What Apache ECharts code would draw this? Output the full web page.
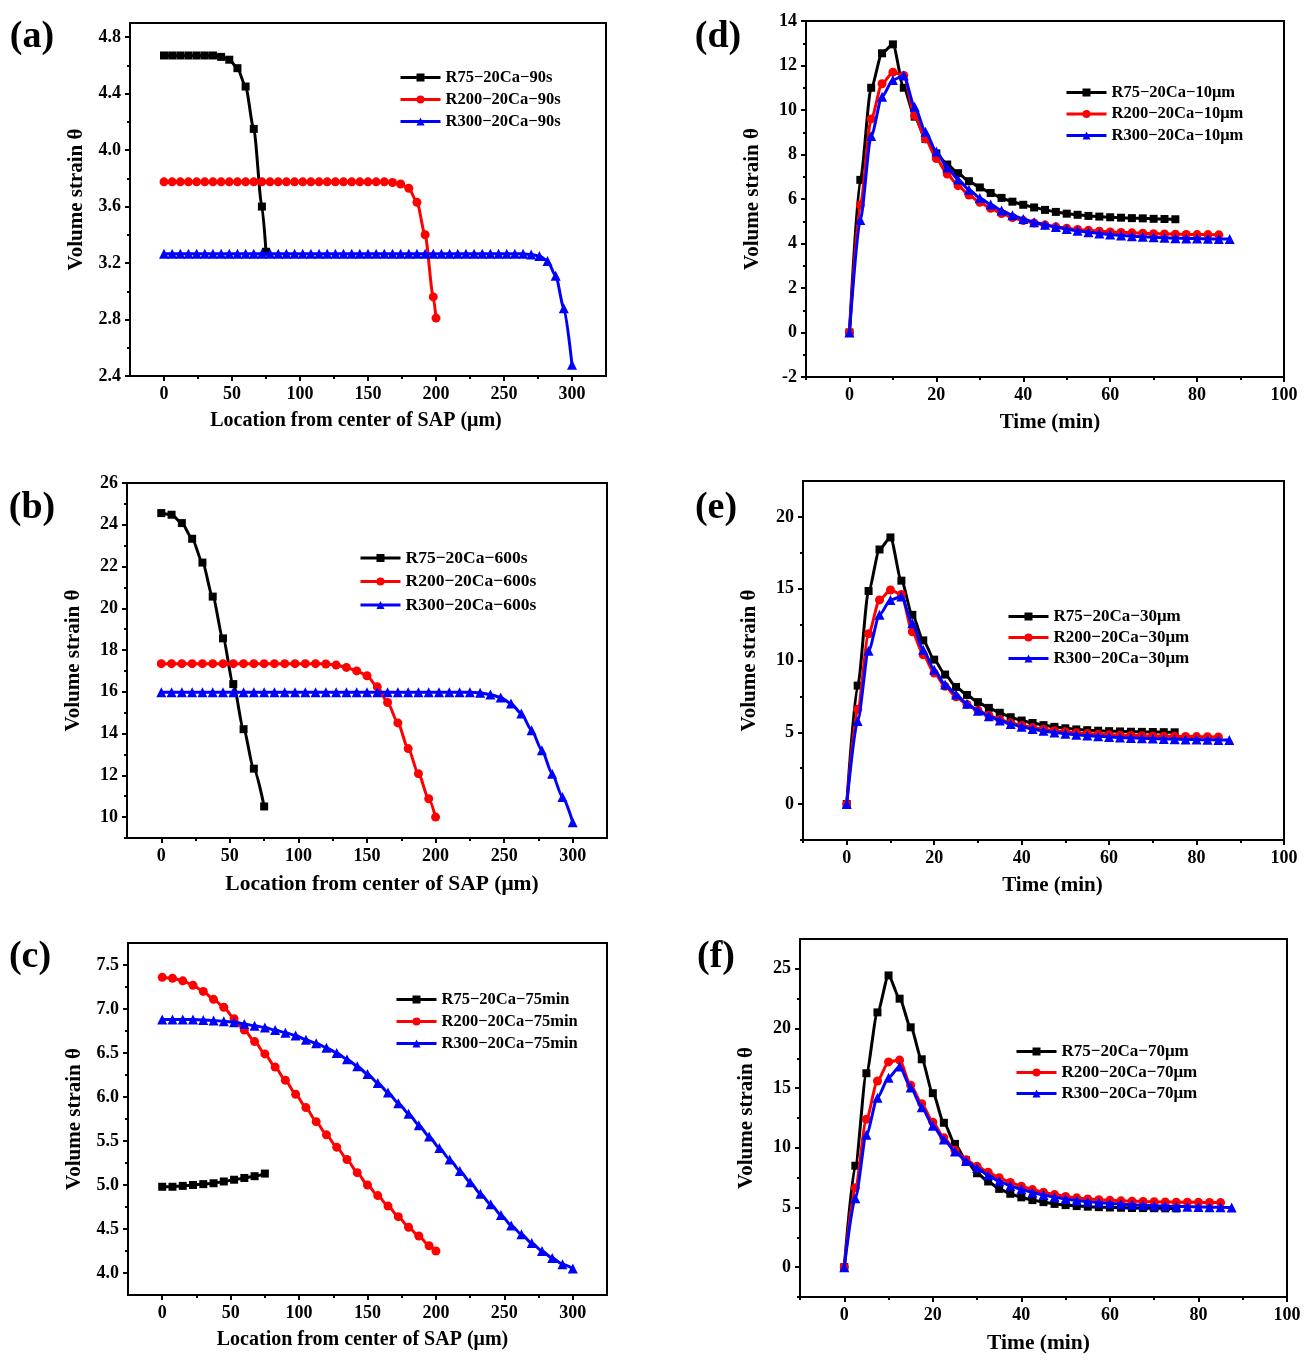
<!DOCTYPE html>
<html>
<head>
<meta charset="utf-8">
<script src="https://cdn.jsdelivr.net/npm/echarts@6.0.0/dist/echarts.min.js"></script>
<style>
  html, body { margin: 0; padding: 0; background: #fff; }
  #main { width: 1311px; height: 1361px; }
</style>
</head>
<body>
<div id="main"></div>
<script>
// ---- data: location (µm) ----
var locA75 = [0, 6, 12, 18, 24, 30, 36, 42, 48, 54, 60, 66, 72, 75];
var locA200 = [0, 6, 12, 18, 24, 30, 36, 42, 48, 54, 60, 66, 72, 78, 84, 90, 96, 102, 108, 114, 120, 126, 132, 138, 144, 150, 156, 162, 168, 174, 180, 186, 192, 198, 200];
var locA300 = [0, 6, 12, 18, 24, 30, 36, 42, 48, 54, 60, 66, 72, 78, 84, 90, 96, 102, 108, 114, 120, 126, 132, 138, 144, 150, 156, 162, 168, 174, 180, 186, 192, 198, 204, 210, 216, 222, 228, 234, 240, 246, 252, 258, 264, 270, 276, 282, 288, 294, 300];
var loc75 = [0, 7.5, 15, 22.5, 30, 37.5, 45, 52.5, 60, 67.5, 75];
var loc200 = [0, 7.5, 15, 22.5, 30, 37.5, 45, 52.5, 60, 67.5, 75, 82.5, 90, 97.5, 105, 112.5, 120, 127.5, 135, 142.5, 150, 157.5, 165, 172.5, 180, 187.5, 195, 200];
var loc300 = [0, 7.5, 15, 22.5, 30, 37.5, 45, 52.5, 60, 67.5, 75, 82.5, 90, 97.5, 105, 112.5, 120, 127.5, 135, 142.5, 150, 157.5, 165, 172.5, 180, 187.5, 195, 202.5, 210, 217.5, 225, 232.5, 240, 247.5, 255, 262.5, 270, 277.5, 285, 292.5, 300];

// ---- data: time (min) ----
var time75 = [0, 2.5, 5, 7.5, 10, 12.5, 15, 17.5, 20, 22.5, 25, 27.5, 30, 32.5, 35, 37.5, 40, 42.5, 45, 47.5, 50, 52.5, 55, 57.5, 60, 62.5, 65, 67.5, 70, 72.5, 75];
var time85 = [0, 2.5, 5, 7.5, 10, 12.5, 15, 17.5, 20, 22.5, 25, 27.5, 30, 32.5, 35, 37.5, 40, 42.5, 45, 47.5, 50, 52.5, 55, 57.5, 60, 62.5, 65, 67.5, 70, 72.5, 75, 77.5, 80, 82.5, 85];
var time875 = [0, 2.5, 5, 7.5, 10, 12.5, 15, 17.5, 20, 22.5, 25, 27.5, 30, 32.5, 35, 37.5, 40, 42.5, 45, 47.5, 50, 52.5, 55, 57.5, 60, 62.5, 65, 67.5, 70, 72.5, 75, 77.5, 80, 82.5, 85, 87.5];

// (a) 90 s
var strainA75 = [4.67, 4.67, 4.67, 4.67, 4.67, 4.67, 4.67, 4.66, 4.64, 4.58, 4.45, 4.15, 3.60, 3.28];
var strainA200 = [3.775, 3.775, 3.775, 3.775, 3.775, 3.775, 3.775, 3.775, 3.775, 3.775, 3.775, 3.775, 3.775, 3.775, 3.775, 3.775, 3.775, 3.775, 3.775, 3.775, 3.775, 3.775, 3.775, 3.775, 3.775, 3.775, 3.775, 3.775, 3.77, 3.76, 3.73, 3.63, 3.40, 2.96, 2.81];
var strainA300 = [3.265, 3.265, 3.265, 3.265, 3.265, 3.265, 3.265, 3.265, 3.265, 3.265, 3.265, 3.265, 3.265, 3.265, 3.265, 3.265, 3.265, 3.265, 3.265, 3.265, 3.265, 3.265, 3.265, 3.265, 3.265, 3.265, 3.265, 3.265, 3.265, 3.265, 3.265, 3.265, 3.265, 3.265, 3.265, 3.265, 3.265, 3.265, 3.265, 3.265, 3.265, 3.265, 3.265, 3.265, 3.265, 3.26, 3.25, 3.215, 3.11, 2.88, 2.48];
// (b) 600 s
var strainB75 = [24.56, 24.48, 24.08, 23.33, 22.19, 20.56, 18.56, 16.37, 14.21, 12.32, 10.51];
var strainB200 = [17.35, 17.35, 17.35, 17.35, 17.35, 17.35, 17.35, 17.35, 17.35, 17.35, 17.35, 17.35, 17.35, 17.35, 17.35, 17.35, 17.33, 17.28, 17.17, 17.0, 16.77, 16.24, 15.49, 14.51, 13.28, 12.08, 10.88, 10.0];
var strainB300 = [15.98, 15.98, 15.98, 15.98, 15.98, 15.98, 15.98, 15.98, 15.98, 15.98, 15.98, 15.98, 15.98, 15.98, 15.98, 15.98, 15.98, 15.98, 15.98, 15.98, 15.98, 15.98, 15.98, 15.98, 15.98, 15.98, 15.98, 15.98, 15.98, 15.98, 15.98, 15.95, 15.87, 15.73, 15.44, 14.96, 14.16, 13.2, 12.08, 10.96, 9.76];
// (c) 75 min
var strainC75 = [4.98, 4.98, 4.99, 5.00, 5.01, 5.02, 5.04, 5.06, 5.08, 5.10, 5.13];
var strainC200 = [7.36, 7.35, 7.32, 7.27, 7.20, 7.11, 7.02, 6.89, 6.76, 6.63, 6.49, 6.34, 6.19, 6.03, 5.88, 5.72, 5.57, 5.43, 5.29, 5.14, 5.00, 4.88, 4.76, 4.64, 4.52, 4.42, 4.31, 4.25];
var strainC300 = [6.88, 6.88, 6.88, 6.88, 6.875, 6.87, 6.86, 6.85, 6.83, 6.81, 6.79, 6.76, 6.73, 6.70, 6.65, 6.61, 6.56, 6.50, 6.43, 6.35, 6.26, 6.16, 6.05, 5.93, 5.81, 5.68, 5.55, 5.42, 5.29, 5.16, 5.03, 4.90, 4.78, 4.66, 4.54, 4.44, 4.34, 4.25, 4.17, 4.10, 4.05];
// (d) 10 µm
var strainD75 = [0, 6.86, 11.0, 12.55, 12.95, 11.0, 9.7, 8.7, 8.05, 7.55, 7.16, 6.8, 6.52, 6.27, 6.05, 5.88, 5.74, 5.62, 5.51, 5.42, 5.34, 5.29, 5.24, 5.21, 5.18, 5.16, 5.14, 5.13, 5.11, 5.10, 5.09];
var strainD200 = [0, 5.73, 9.6, 11.18, 11.7, 11.55, 9.75, 8.7, 7.82, 7.12, 6.6, 6.18, 5.85, 5.58, 5.35, 5.17, 5.03, 4.92, 4.83, 4.75, 4.68, 4.63, 4.59, 4.55, 4.52, 4.50, 4.48, 4.46, 4.44, 4.43, 4.42, 4.41, 4.40, 4.40, 4.39];
var strainD300 = [0, 5.06, 8.83, 10.6, 11.35, 11.55, 10.15, 9.02, 8.13, 7.42, 6.88, 6.42, 6.05, 5.75, 5.48, 5.27, 5.1, 4.96, 4.84, 4.74, 4.65, 4.57, 4.51, 4.45, 4.40, 4.36, 4.33, 4.30, 4.28, 4.26, 4.24, 4.23, 4.22, 4.21, 4.20, 4.20];
// (e) 30 µm
var strainE75 = [0, 8.25, 14.84, 17.73, 18.57, 15.56, 13.18, 11.4, 10.06, 9.02, 8.16, 7.6, 7.1, 6.7, 6.36, 6.05, 5.82, 5.65, 5.5, 5.38, 5.28, 5.2, 5.15, 5.11, 5.08, 5.06, 5.04, 5.03, 5.02, 5.01, 5.0];
var strainE200 = [0, 6.6, 11.86, 14.22, 14.91, 14.6, 12.0, 10.4, 9.13, 8.2, 7.47, 6.94, 6.54, 6.17, 5.9, 5.66, 5.48, 5.33, 5.21, 5.11, 5.03, 4.96, 4.91, 4.87, 4.83, 4.80, 4.78, 4.76, 4.74, 4.73, 4.72, 4.71, 4.70, 4.69, 4.68];
var strainE300 = [0, 5.78, 10.68, 13.18, 14.22, 14.45, 12.6, 10.75, 9.36, 8.32, 7.63, 6.98, 6.5, 6.12, 5.82, 5.58, 5.39, 5.23, 5.1, 4.99, 4.9, 4.83, 4.77, 4.72, 4.68, 4.64, 4.61, 4.58, 4.56, 4.54, 4.52, 4.50, 4.49, 4.48, 4.47, 4.46];
// (f) 70 µm
var strainF75 = [0, 8.5, 16.25, 21.35, 24.45, 22.5, 20.1, 17.42, 14.58, 12.1, 10.33, 8.95, 7.87, 7.18, 6.56, 6.15, 5.85, 5.62, 5.45, 5.3, 5.2, 5.12, 5.07, 5.03, 5.0, 4.98, 4.96, 4.95, 4.94, 4.93, 4.92];
var strainF200 = [0, 6.65, 12.4, 15.6, 17.2, 17.35, 15.25, 13.7, 12.15, 10.85, 9.8, 9.0, 8.45, 7.95, 7.5, 7.1, 6.78, 6.5, 6.27, 6.08, 5.93, 5.81, 5.72, 5.65, 5.6, 5.56, 5.53, 5.5, 5.48, 5.46, 5.45, 5.44, 5.43, 5.42, 5.41];
var strainF300 = [0, 5.78, 11.1, 14.2, 15.88, 16.81, 15.05, 13.4, 11.85, 10.7, 9.7, 8.9, 8.3, 7.7, 7.2, 6.83, 6.52, 6.26, 6.04, 5.86, 5.71, 5.59, 5.49, 5.41, 5.34, 5.28, 5.23, 5.19, 5.15, 5.12, 5.09, 5.07, 5.05, 5.03, 5.02, 5.0];

// ---- tick values ----
var locTicks = [0, 50, 100, 150, 200, 250, 300];
var locMinor = [25, 75, 125, 175, 225, 275];
var timeTicks = [0, 20, 40, 60, 80, 100];
var timeMinor = [-10, 10, 30, 50, 70, 90];
var yTicksA = [2.4, 2.8, 3.2, 3.6, 4.0, 4.4, 4.8];
var yMinorA = [2.6, 3.0, 3.4, 3.8, 4.2, 4.6];
var yTicksB = [10, 12, 14, 16, 18, 20, 22, 24, 26];
var yMinorB = [9, 11, 13, 15, 17, 19, 21, 23, 25];
var yTicksC = [4.0, 4.5, 5.0, 5.5, 6.0, 6.5, 7.0, 7.5];
var yMinorC = [4.25, 4.75, 5.25, 5.75, 6.25, 6.75, 7.25];
var yTicksD = [-2, 0, 2, 4, 6, 8, 10, 12, 14];
var yMinorD = [-1, 1, 3, 5, 7, 9, 11, 13];
var yTicksE = [0, 5, 10, 15, 20];
var yMinorE = [-2.5, 2.5, 7.5, 12.5, 17.5];
var yTicksF = [0, 5, 10, 15, 20, 25];
var yMinorF = [-2.5, 2.5, 7.5, 12.5, 17.5, 22.5];

var FONT = 'Liberation Serif';
var COLORS = ['#000000', '#ff0000', '#0000ff'];
var SYMBOLS = ['rect', 'circle', 'triangle'];
var SIZES = [8, 9, 10];

var panels = [
  { tag: '(a)', tagX: 32, tagY: 37, grid: { left: 130, top: 23, width: 476, height: 353 },
    x: [-25, 325, locTicks, locMinor, 0], y: [2.4, 4.9, yTicksA, yMinorA, 1],
    xName: 'Location from center of SAP (μm)', xNameSize: 20, xNameShift: -12,
    legend: { left: 394, top: 64, size: 16.5, gap: 5 },
    names: ['R75−20Ca−90s', 'R200−20Ca−90s', 'R300−20Ca−90s'],
    xs: [locA75, locA200, locA300], ys: [strainA75, strainA200, strainA300] },
  { tag: '(b)', tagX: 32, tagY: 508, grid: { left: 127, top: 483, width: 480, height: 355 },
    x: [-25, 325, locTicks, locMinor, 0], y: [9, 26, yTicksB, yMinorB, 0],
    xName: 'Location from center of SAP (μm)', xNameSize: 21.5, xNameShift: 15,
    legend: { left: 354, top: 544, size: 17.5, gap: 5.5 },
    names: ['R75−20Ca−600s', 'R200−20Ca−600s', 'R300−20Ca−600s'],
    xs: [loc75, loc200, loc300], ys: [strainB75, strainB200, strainB300] },
  { tag: '(c)', tagX: 30, tagY: 957, grid: { left: 128, top: 943, width: 479, height: 352 },
    x: [-25, 325, locTicks, locMinor, 0], y: [3.75, 7.75, yTicksC, yMinorC, 1],
    xName: 'Location from center of SAP (μm)', xNameSize: 20, xNameShift: -5,
    legend: { left: 390, top: 986, size: 16.5, gap: 5 },
    names: ['R75−20Ca−75min', 'R200−20Ca−75min', 'R300−20Ca−75min'],
    xs: [loc75, loc200, loc300], ys: [strainC75, strainC200, strainC300] },
  { tag: '(d)', tagX: 718, tagY: 37, grid: { left: 806, top: 21, width: 478, height: 356 },
    x: [-10, 100, timeTicks, timeMinor, 0], y: [-2, 14, yTicksD, yMinorD, 0],
    xName: 'Time (min)', xNameSize: 21, xNameShift: 5,
    legend: { left: 1060, top: 79, size: 16.5, gap: 4.5 },
    names: ['R75−20Ca−10μm', 'R200−20Ca−10μm', 'R300−20Ca−10μm'],
    xs: [time75, time85, time875], ys: [strainD75, strainD200, strainD300] },
  { tag: '(e)', tagX: 716, tagY: 508, grid: { left: 803, top: 481, width: 481, height: 359 },
    x: [-10, 100, timeTicks, timeMinor, 0], y: [-2.5, 22.5, yTicksE, yMinorE, 0],
    xName: 'Time (min)', xNameSize: 21, xNameShift: 9,
    legend: { left: 1002, top: 603, size: 17, gap: 4 },
    names: ['R75−20Ca−30μm', 'R200−20Ca−30μm', 'R300−20Ca−30μm'],
    xs: [time75, time85, time875], ys: [strainE75, strainE200, strainE300] },
  { tag: '(f)', tagX: 716, tagY: 957, grid: { left: 800, top: 939, width: 487, height: 358 },
    x: [-10, 100, timeTicks, timeMinor, 0], y: [-2.5, 27.5, yTicksF, yMinorF, 0],
    xName: 'Time (min)', xNameSize: 21.5, xNameShift: -5,
    legend: { left: 1010, top: 1038, size: 17, gap: 4 },
    names: ['R75−20Ca−70μm', 'R200−20Ca−70μm', 'R300−20Ca−70μm'],
    xs: [time75, time85, time875], ys: [strainF75, strainF200, strainF300] }
];

var option = {
  animation: false,
  backgroundColor: '#fff',
  grid: [], xAxis: [], yAxis: [], legend: [], series: [], graphic: []
};

panels.forEach(function (p, i) {
  option.grid.push(Object.assign({ show: true, borderColor: '#000', borderWidth: 2, backgroundColor: 'transparent' }, p.grid));

  // the axis titles in the figure are not quite centred under the plot
  var s = p.xNameShift;
  var namePad = s > 0 ? [0, 0, 0, 2 * s] : [0, -2 * s, 0, 0];

  // main x axis
  option.xAxis.push({
    type: 'value', gridIndex: i, position: 'bottom', min: p.x[0], max: p.x[1],
    name: p.xName, nameLocation: 'middle', nameGap: 35,
    nameTextStyle: { fontFamily: FONT, fontWeight: 'bold', fontSize: p.xNameSize, color: '#000', padding: namePad },
    splitLine: { show: false },
    axisLine: { show: true, onZero: false, lineStyle: { color: '#000', width: 2 } },
    axisTick: { show: true, customValues: p.x[2], length: 5, lineStyle: { color: '#000', width: 2 } },
    axisLabel: { customValues: p.x[2], margin: 9,
      fontFamily: FONT, fontWeight: 'bold', fontSize: 18, color: '#000' }
  });
  // minor x ticks
  option.xAxis.push({
    type: 'value', gridIndex: i, position: 'bottom', offset: 0, min: p.x[0], max: p.x[1],
    splitLine: { show: false },
    axisLine: { show: false, onZero: false },
    axisTick: { show: true, customValues: p.x[3], length: 3, lineStyle: { color: '#000', width: 2 } },
    axisLabel: { show: false }
  });
  var dec = p.y[4];
  option.yAxis.push({
    type: 'value', gridIndex: i, position: 'left', min: p.y[0], max: p.y[1],
    name: 'Volume strain θ', nameLocation: 'middle', nameGap: 43,
    nameTextStyle: { fontFamily: FONT, fontWeight: 'bold', fontSize: 21, color: '#000' },
    splitLine: { show: false },
    axisLine: { show: true, onZero: false, lineStyle: { color: '#000', width: 2 } },
    axisTick: { show: true, customValues: p.y[2], length: 5, lineStyle: { color: '#000', width: 2 } },
    axisLabel: { customValues: p.y[2], margin: 9,
      fontFamily: FONT, fontWeight: 'bold', fontSize: 18, color: '#000',
      formatter: function (v) { return v.toFixed(dec); } }
  });
  // minor y ticks
  option.yAxis.push({
    type: 'value', gridIndex: i, position: 'left', offset: 0, min: p.y[0], max: p.y[1],
    splitLine: { show: false },
    axisLine: { show: false, onZero: false },
    axisTick: { show: true, customValues: p.y[3], length: 3, lineStyle: { color: '#000', width: 2 } },
    axisLabel: { show: false }
  });

  option.legend.push({
    orient: 'vertical', left: p.legend.left, top: p.legend.top,
    itemWidth: 40, itemHeight: 10, itemGap: p.legend.gap,
    lineStyle: { width: 3 },
    textStyle: { fontFamily: FONT, fontWeight: 'bold', fontSize: p.legend.size, color: '#000' },
    data: p.names
  });

  for (var k = 0; k < 3; k++) {
    var pts = p.xs[k].map(function (x, j) { return [x, p.ys[k][j]]; });
    option.series.push({
      name: p.names[k], type: 'line', xAxisIndex: 2 * i, yAxisIndex: 2 * i,
      data: pts, smooth: 0.25, smoothMonotone: 'x',
      symbol: SYMBOLS[k], symbolSize: SIZES[k],
      lineStyle: { color: COLORS[k], width: 3 },
      itemStyle: { color: COLORS[k] },
      z: 2 + k
    });
  }

  option.graphic.push({
    type: 'text', x: p.tagX, y: p.tagY,
    style: { text: p.tag, fontFamily: FONT, fontWeight: 'bold', fontSize: 38, fill: '#000',
      textAlign: 'center', textVerticalAlign: 'middle' }
  });
});

var chart = echarts.init(document.getElementById('main'), null, { renderer: 'canvas' });
chart.setOption(option);
</script>
</body>
</html>
